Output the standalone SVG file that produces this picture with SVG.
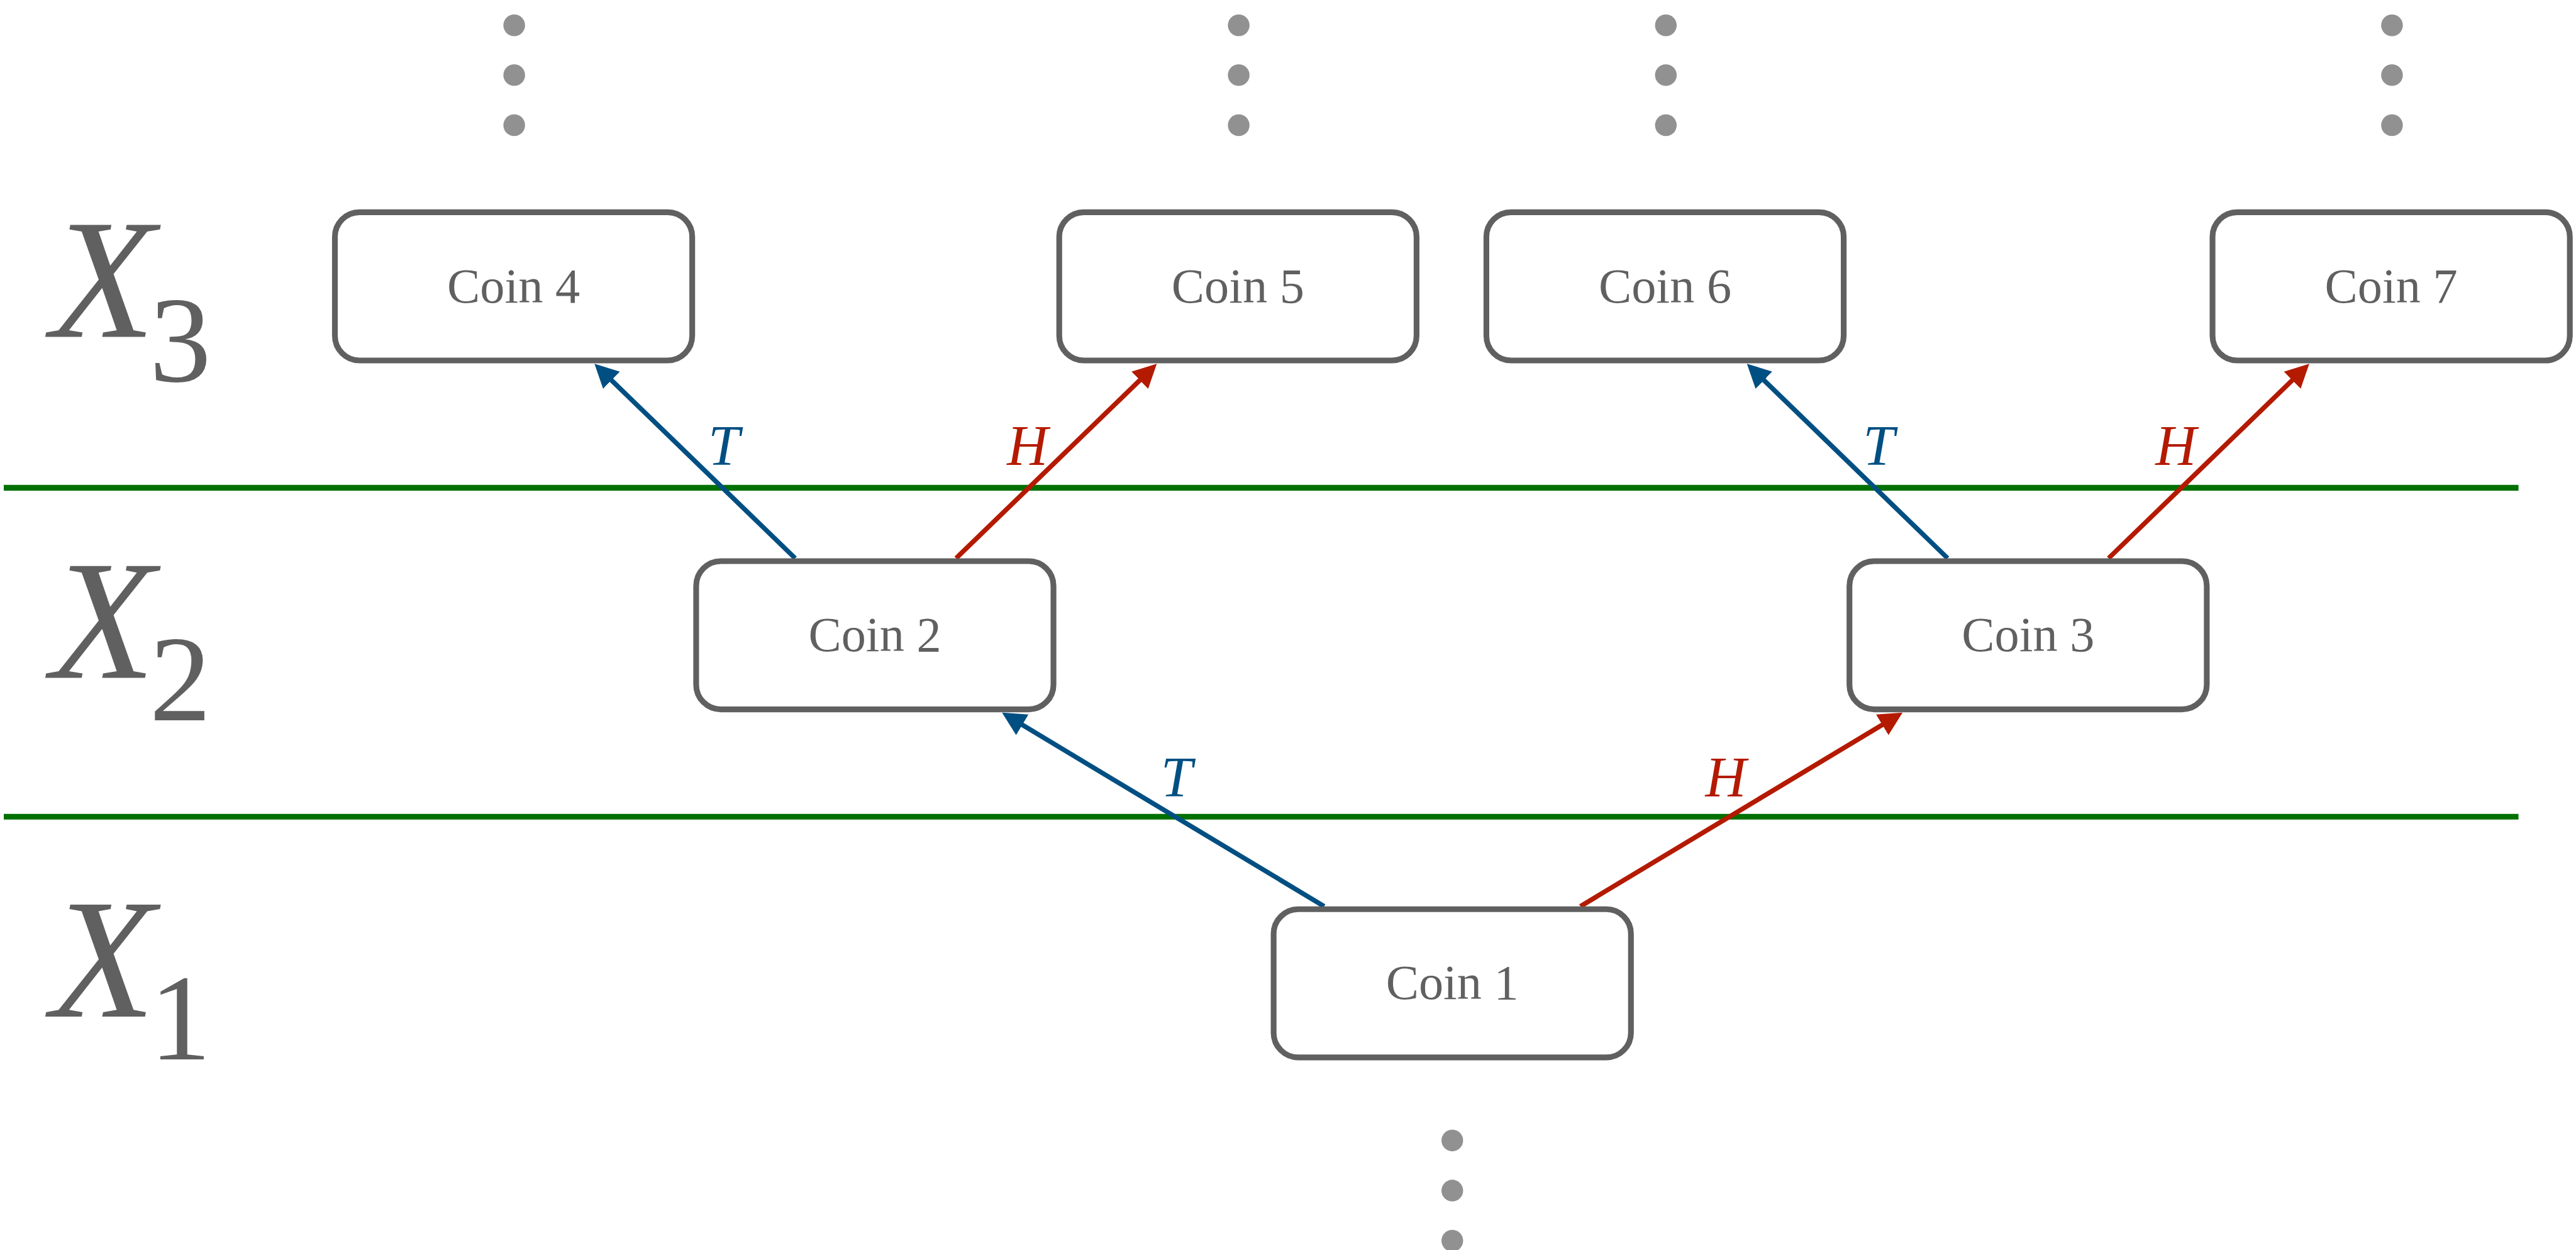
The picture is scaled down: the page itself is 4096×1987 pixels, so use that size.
<svg xmlns="http://www.w3.org/2000/svg" width="4096" height="1987" viewBox="0 0 4096 1987">
  <style>
    .box { fill: #ffffff; stroke: #606060; stroke-width: 3.5; }
    .coin { font-family: "Liberation Serif", "Times New Roman", serif; font-size: 30px; fill: #606060; text-anchor: middle; }
    .level { font-family: "Liberation Serif", "Times New Roman", serif; font-style: italic; font-size: 104px; fill: #606060; }
    .sub { font-family: "Liberation Serif", "Times New Roman", serif; font-size: 75px; fill: #606060; }
    .sep { stroke: #007000; stroke-width: 3.5; fill: none; }
    .dot { fill: #919191; }
    .tails { stroke: #004f82; stroke-width: 2.9; fill: none; marker-end: url(#headT); }
    .heads { stroke: #b41a00; stroke-width: 2.9; fill: none; marker-end: url(#headH); }
    .lblT { font-family: "Liberation Serif", "Times New Roman", serif; font-style: italic; font-size: 34.5px; fill: #004f82; }
    .lblH { font-family: "Liberation Serif", "Times New Roman", serif; font-style: italic; font-size: 34.5px; fill: #b41a00; }
  </style>
  <defs>
    <marker id="headT" markerUnits="userSpaceOnUse" viewBox="0 -8 15 16" markerWidth="15" markerHeight="16" refX="0.5" refY="0" orient="auto">
      <path d="M0,-7.3 L14.4,0 L0,7.3 Z" fill="#004f82"/>
    </marker>
    <marker id="headH" markerUnits="userSpaceOnUse" viewBox="0 -8 15 16" markerWidth="15" markerHeight="16" refX="0.5" refY="0" orient="auto">
      <path d="M0,-7.3 L14.4,0 L0,7.3 Z" fill="#b41a00"/>
    </marker>
  </defs>

  <g transform="scale(2.6122449)">
    <!-- level separators -->
    <g id="separators">
      <line class="sep" x1="2.3" y1="296.8" x2="1533" y2="296.8"/>
      <line class="sep" x1="2.3" y1="497" x2="1533" y2="497"/>
    </g>

    <!-- level labels -->
    <g id="levels">
      <g id="level-x3">
        <text class="level" x="31" y="205">X</text>
        <text class="sub" x="91" y="232">3</text>
      </g>
      <g id="level-x2">
        <text class="level" x="31" y="412.5">X</text>
        <text class="sub" x="91" y="438.5">2</text>
      </g>
      <g id="level-x1">
        <text class="level" x="31" y="618.6">X</text>
        <text class="sub" x="91" y="644.6">1</text>
      </g>
    </g>

    <!-- continuation dots -->
    <g id="ellipses">
      <g id="dots-coin4"><circle class="dot" cx="313" cy="15.4" r="6.6"/><circle class="dot" cx="313" cy="45.7" r="6.6"/><circle class="dot" cx="313" cy="76.2" r="6.6"/></g>
      <g id="dots-coin5"><circle class="dot" cx="754" cy="15.4" r="6.6"/><circle class="dot" cx="754" cy="45.7" r="6.6"/><circle class="dot" cx="754" cy="76.2" r="6.6"/></g>
      <g id="dots-coin6"><circle class="dot" cx="1014" cy="15.4" r="6.6"/><circle class="dot" cx="1014" cy="45.7" r="6.6"/><circle class="dot" cx="1014" cy="76.2" r="6.6"/></g>
      <g id="dots-coin7"><circle class="dot" cx="1456" cy="15.4" r="6.6"/><circle class="dot" cx="1456" cy="45.7" r="6.6"/><circle class="dot" cx="1456" cy="76.2" r="6.6"/></g>
      <g id="dots-coin1"><circle class="dot" cx="884" cy="694" r="6.6"/><circle class="dot" cx="884" cy="724.5" r="6.6"/><circle class="dot" cx="884" cy="755" r="6.6"/></g>
    </g>

    <!-- coin outcome edges -->
    <g id="connectors">
      <g id="edge-1-2">
        <line class="tails" x1="806" y1="551.5" x2="621.84" y2="440.82"/>
        <text class="lblT" x="706.6" y="484.8">T</text>
      </g>
      <g id="edge-1-3">
        <line class="heads" x1="962" y1="551.5" x2="1146.16" y2="440.82"/>
        <text class="lblH" x="1038" y="484.8">H</text>
      </g>
      <g id="edge-2-4">
        <line class="tails" x1="484" y1="339.7" x2="371.84" y2="231.02"/>
        <text class="lblT" x="431" y="283">T</text>
      </g>
      <g id="edge-2-5">
        <line class="heads" x1="582" y1="339.7" x2="694.16" y2="231.02"/>
        <text class="lblH" x="613" y="283">H</text>
      </g>
      <g id="edge-3-6">
        <line class="tails" x1="1185.5" y1="339.7" x2="1073.34" y2="231.02"/>
        <text class="lblT" x="1134" y="283">T</text>
      </g>
      <g id="edge-3-7">
        <line class="heads" x1="1283.5" y1="339.7" x2="1395.66" y2="231.02"/>
        <text class="lblH" x="1312" y="283">H</text>
      </g>
    </g>

    <!-- coin nodes -->
    <g id="coin4">
      <rect class="box" x="203.85" y="129.15" width="217.5" height="90.2" rx="15"/>
      <text class="coin" x="312.6" y="184">Coin 4</text>
    </g>
    <g id="coin5">
      <rect class="box" x="644.75" y="129.15" width="217.5" height="90.2" rx="15"/>
      <text class="coin" x="753.5" y="184">Coin 5</text>
    </g>
    <g id="coin6">
      <rect class="box" x="904.75" y="129.15" width="217.5" height="90.2" rx="15"/>
      <text class="coin" x="1013.5" y="184">Coin 6</text>
    </g>
    <g id="coin7">
      <rect class="box" x="1346.75" y="129.15" width="217.5" height="90.2" rx="15"/>
      <text class="coin" x="1455.5" y="184">Coin 7</text>
    </g>
    <g id="coin2">
      <rect class="box" x="423.75" y="341.45" width="217.5" height="90.2" rx="15"/>
      <text class="coin" x="532.5" y="396.3">Coin 2</text>
    </g>
    <g id="coin3">
      <rect class="box" x="1125.75" y="341.45" width="217.5" height="90.2" rx="15"/>
      <text class="coin" x="1234.5" y="396.3">Coin 3</text>
    </g>
    <g id="coin1">
      <rect class="box" x="775.25" y="553.25" width="217.5" height="90.2" rx="15"/>
      <text class="coin" x="884" y="608">Coin 1</text>
    </g>
  </g>
</svg>
